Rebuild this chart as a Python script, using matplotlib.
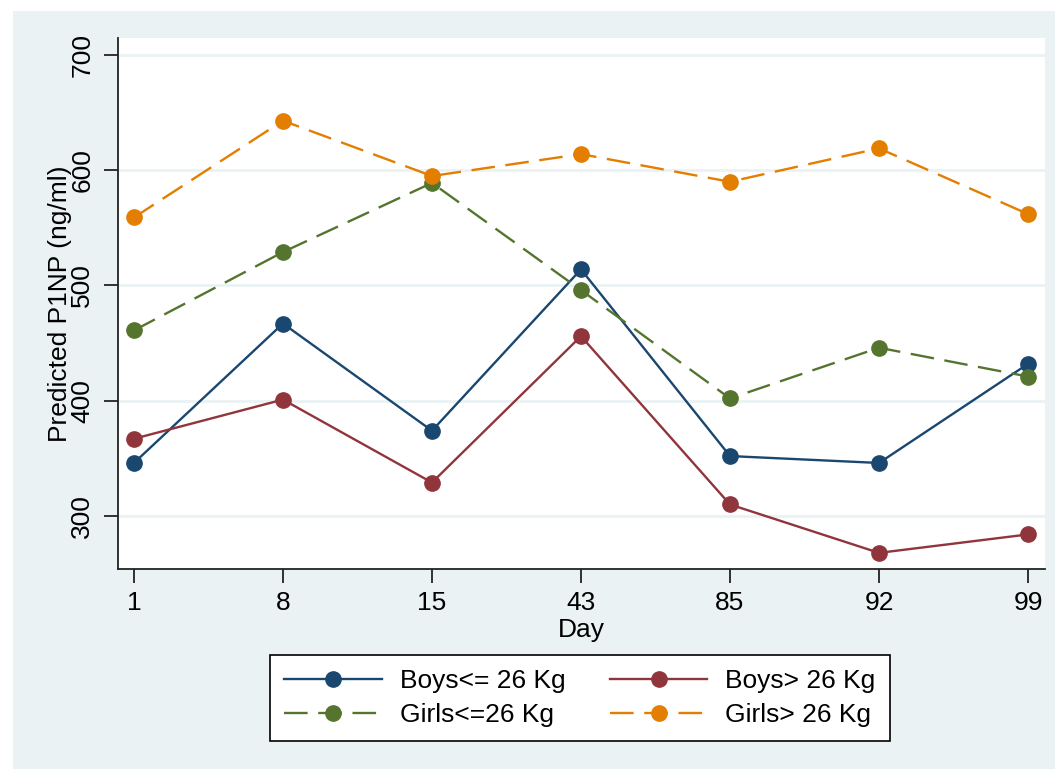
import matplotlib
matplotlib.use("Agg")
import matplotlib.pyplot as plt
from matplotlib.patches import Rectangle

days = ["1", "8", "15", "43", "85", "92", "99"]
boys_le26 = [346, 467, 374, 514, 352, 346, 432]
boys_gt26 = [367, 401, 329, 456, 310, 268, 284]
girls_le26 = [461, 529, 589, 496, 402, 446, 421]
girls_gt26 = [559, 643, 595, 614, 590, 619, 562]
yticks = [300, 400, 500, 600, 700]

plt.rcParams['font.family'] = ['Liberation Sans', 'DejaVu Sans']
FS = 19
BG = '#eaf2f3'

W, H = 1055, 769
fig = plt.figure(figsize=(W / 100, H / 100), dpi=100, facecolor='white')
fig.patches.append(Rectangle((13 / W, 0), 1 - 13 / W, 1 - 11 / H, transform=fig.transFigure,
                             facecolor=BG, edgecolor='none', zorder=-10))

ax = fig.add_axes([118 / W, 1 - 569 / H, (1045 - 118) / W, (569 - 38) / H])
ax.set_zorder(1)
ax.set_facecolor('white')

x = list(range(len(days)))
series = [
    ("Boys<= 26 Kg", boys_le26, '#1a476f', '-'),
    ("Girls<=26 Kg", girls_le26, '#55752f', (0, (10, 4.5))),
    ("Boys> 26 Kg", boys_gt26, '#90353b', '-'),
    ("Girls> 26 Kg", girls_gt26, '#e37e00', (0, (10, 4.5))),
]
handles = []
for label, vals, col, ls in series:
    h, = ax.plot(x, vals, color=col, linestyle=ls, linewidth=1.7, marker='o',
                 markersize=11, markerfacecolor=col, markeredgecolor=col, label=label, zorder=3)
    handles.append(h)

ax.set_xlim(-0.107, 6.114)
ax.set_ylim(254, 714.75)
ax.set_xticks(x)
ax.set_xticklabels(days, fontsize=FS)
ax.set_yticks(yticks)
ax.set_yticklabels([str(v) for v in yticks], fontsize=FS, rotation=90, va='center')
ax.grid(axis='y', color=BG, linewidth=2, zorder=1)
ax.set_axisbelow(True)
for s in ['top', 'right']:
    ax.spines[s].set_visible(False)
for s in ['left', 'bottom']:
    ax.spines[s].set_linewidth(1.3)
    ax.spines[s].set_color('#222222')
ax.tick_params(axis='x', length=10, width=1.3, color='#222222', pad=6)
ax.tick_params(axis='y', length=10, width=1.3, color='#222222', pad=7)

ax.set_xlabel("Day", fontsize=FS)
ax.xaxis.set_label_coords(0.5, (569 - 618) / 531)
ax.set_ylabel("Predicted P1NP (ng/ml)", fontsize=FS)
ax.yaxis.set_label_coords((72 - 118) / 927, 0.5)

leg = fig.legend(handles=handles, labels=[h.get_label() for h in handles], ncol=2,
                 loc='center', bbox_to_anchor=(580 / W, 1 - 698 / H), fontsize=FS,
                 frameon=True, fancybox=False, shadow=False, framealpha=1,
                 handlelength=3.7, handletextpad=0.68, columnspacing=1.67,
                 labelspacing=0.36, borderpad=0.55)
leg.get_frame().set_edgecolor('black')
leg.get_frame().set_linewidth(1.2)

fig.savefig("out.png", dpi=100, facecolor=fig.get_facecolor())
